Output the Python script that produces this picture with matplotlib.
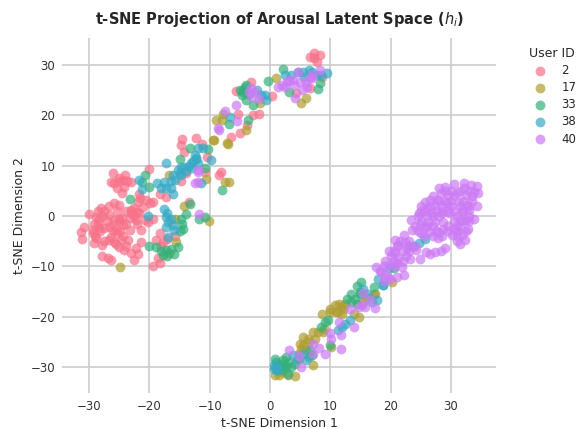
import matplotlib
matplotlib.use('Agg')
import matplotlib.pyplot as plt
import numpy as np
import seaborn as sns

user_ids = [2, 17, 33, 38, 40]

# points (t-SNE dim 1, dim 2)
user_2 = [(-26.0,8.6),(-24.1,8.1),(-26.4,6.7),(-24.4,7.2),(-23.1,6.8),(-25.8,6.5),(-25.3,5.5),(-24.2,5.8),
    (-24.6,4.6),(-21.8,4.4),(-21.9,2.8),(-22.5,1.5),(-19.4,2.8),(-19.9,2.5),(-18.3,4.4),(-17.2,3.8),(-20.0,9.3),
    (-28.1,1.5),(-28.6,0.9),(-30.0,0.4),(-26.7,1.9),(-25.8,2.5),(-25.0,2.2),(-25.3,0.9),(-23.9,0.9),(-23.1,1.2),
    (-21.7,0.5),(-22.5,0.0),(-23.3,-0.3),(-22.2,-0.8),(-20.8,-0.8),(-20.3,-1.1),(-19.4,-0.5),(-28.3,-0.5),
    (-29.2,-1.5),(-30.8,-2.1),(-31.4,-3.1),(-31.2,-4.6),(-29.4,-3.4),(-28.9,-4.4),(-29.2,-5.4),(-27.8,-5.8),
    (-26.7,-2.1),(-25.8,-0.8),(-25.0,-0.5),(-25.6,-2.5),(-24.4,-1.8),(-23.3,-2.8),(-21.4,-2.8),(-26.4,-4.1),
    (-25.3,-3.4),(-24.7,-4.8),(-23.6,-4.8),(-25.0,-6.1),(-24.2,-6.8),(-21.4,-5.2),(-22.2,-6.4),(-23.1,-7.4),
    (-21.9,-7.6),(-22.5,-8.7),(-27.8,-7.9),(-26.9,-8.4),(-26.4,-8.7),(-18.3,-3.4),(-18.9,-4.8),(-17.8,-5.1),
    (-15.8,-3.9),(-18.6,-8.4),(-19.4,-9.9),(-18.2,-9.4),(-28.3,-2.4),(-27.5,-2.4),(-26.7,-4.8),(-25.8,-5.1),
    (-29.4,-2.8),(-28.6,-1.5),(-27.8,0.0),(-26.7,0.2),
    (-14.6,15.3),(-14.7,14.1),(-12.3,15.4),(-11.3,14.2),(-14.2,12.6),(-10.4,11.8),(-8.2,8.8),(-8.5,8.1),
    (-13.9,8.5),(-14.7,7.0),(-10.7,8.8),(-13.4,2.8),
    (7.3,32.3),(6.7,31.6),(8.3,31.9),(7.8,30.6),(7.3,31.3),(-5.7,24.8),(-3.1,26.5),(0.3,23.8),(8.6,27.6),
    (6.6,25.3),(4.4,24.3),(-1.9,20.3),(-2.8,20.0),(-3.8,18.0),(-5.0,16.5),(-6.5,15.7),(-5.3,20.3),
    (-28.8,-0.2),(-27.5,1.0),(-27.0,-1.0),(-28.2,-3.0),(-29.0,-4.0),(-27.5,-5.0),(-26.0,-1.5),(-26.0,-3.0),
    (-24.8,-1.0),(-24.8,-3.0),(-24.3,-4.0),(-25.5,-5.5),(-23.8,-6.0),(-24.5,-0.3),(-23.0,0.5),(-22.0,0.8),
    (-21.0,1.8),(-22.0,-1.5),(-23.8,-1.5),(-21.5,3.6),(-20.5,3.2),(-25.0,7.5),(-25.0,7.0),(-23.7,7.0),
    (-18.0,-6.0),(-17.0,-4.5)]

user_17 = [(-9.0,19.0),(-7.8,20.3),(-8.0,19.0),(-9.3,15.0),(-6.9,14.2),(-1.6,22.5),(1.0,27.4),(5.1,22.5),(5.9,23.4),
    (-4.0,17.0),(-24.9,-10.2),(-9.4,15.1),(-7.1,14.4),(-7.4,6.8),(-6.8,6.8),(-16.7,8.1),(-14.2,2.0),(-15.8,-0.5),
    (-15.6,-5.1),(-16.7,-7.3),(-10.1,-1.0),(-10.6,7.3),
    (8.7,-19.5),(10.0,-18.5),(11.9,-17.9),(11.3,-19.0),(12.2,-18.5),(7.2,-23.0),(5.5,-24.0),(6.3,-24.3),(7.4,-24.3),
    (5.2,-26.3),(4.9,-27.3),(10.1,-26.0),(7.2,-29.6),(4.1,-31.8),(0.9,-31.6),(17.4,-15.4),(14.7,-20.0),(8.8,-23.0),
    (4.9,-28.3),(6.0,-26.6),(10.8,-17.7),(20.2,-13.0),(17.2,-15.5),
    (11.0,-19.0),(10.0,-19.0),(11.5,-17.5),(12.5,-17.5),(12.0,-19.5),(9.0,-22.5),(8.0,-23.0),(6.5,-25.0),(5.5,-25.5),
    (5.0,-25.3),(2.0,-31.0),(1.5,-31.5),(3.0,-31.5),(16.0,-16.0),(15.5,-17.0),(14.0,-19.5)]

user_33 = [(-20.7,8.1),(-21.2,6.8),(-20.0,5.7),(-23.3,3.3),(-15.0,11.3),(-13.3,13.4),(-10.3,13.2),(-7.9,5.2),(-13.9,0.4),
    (-13.3,2.4),(-14.6,-1.5),(-14.4,-2.5),(-20.0,-6.0),(-18.9,-6.2),(-15.3,-6.2),(-17.2,-6.8),(-17.7,-7.7),(-11.7,-0.5),
    (-10.7,-0.1),(-10.7,9.5),
    (-4.4,25.0),(-4.2,25.6),(-4.7,24.0),(-3.9,23.0),(-2.8,22.0),(-0.4,26.8),(2.2,29.1),(3.1,24.6),(8.3,26.3),(7.9,25.1),
    (-3.7,19.1),(-6.8,18.3),
    (15.1,-13.0),(17.2,-14.0),(14.4,-13.9),(12.8,-16.4),(14.1,-16.4),(14.4,-17.4),(9.7,-20.7),(9.1,-21.0),(8.4,-22.1),
    (9.9,-25.6),(6.6,-26.6),(0.8,-28.3),(1.6,-29.3),(2.7,-29.9),(3.0,-31.3),(2.2,-28.6),(4.1,-29.3),(1.1,-30.6),
    (2.7,-27.9),(20.5,-10.4),
    (-15.0,-3.0),(-14.8,-0.5),(-16.5,-6.5),(-18.0,-7.0),(-17.0,-8.0),(-16.0,-7.5),(-4.5,24.5),(-5.0,25.0),(-3.5,24.2),
    (-4.0,26.0),(1.0,-29.0),(1.5,-30.0),(2.0,-30.5),(2.5,-29.5),(3.0,-29.0),(0.8,-30.0),(3.5,-30.0),(13.5,-15.5),
    (15.0,-15.5),(13.5,-17.0),(15.0,-15.0),(6.5,-28.0),(7.0,-27.5)]

user_38 = [(-17.3,10.6),(-21.7,7.2),(-21.2,5.3),(-18.8,6.5),(-17.6,6.8),(-17.2,5.5),(-16.1,4.4),(-15.8,7.2),(-15.3,9.1),
    (-14.2,9.8),(-13.1,10.5),(-12.2,11.5),(-9.7,11.1),(-11.1,13.4),(-12.5,12.1),(-16.1,8.1),(-17.5,1.4),(-17.2,-0.1),
    (-20.3,0.0),(-16.9,-1.1),(-16.1,-1.8),(-17.2,-2.1),(-16.9,-4.1),(-11.4,6.5),(-14.7,8.1),
    (-2.1,25.0),(-0.8,24.0),(-0.6,23.1),(-6.7,19.7),(2.5,27.9),(4.7,28.5),(6.4,28.9),(7.8,27.9),(9.4,28.3),(5.6,27.6),
    (-11.9,13.4),(-12.2,11.4),
    (1.1,-29.9),(0.6,-30.3),(3.8,-27.6),(6.0,-28.6),(11.3,-22.6),(13.3,-20.7),(16.3,-15.4),(17.7,-16.7),(18.8,-13.7),
    (5.5,-27.3),(25.8,-4.6),(24.7,-5.4),(23.8,-6.0),(19.7,-10.4),(18.7,-13.7),
    (-15.0,8.5),(-14.0,9.0),(-13.5,10.0),(-12.8,11.0),(-14.8,9.8),(-13.0,9.5),(-12.0,10.5),(-16.5,7.0),(-16.5,5.5),
    (-18.0,5.5),(-17.0,0.5),(-16.5,-0.5),(-16.0,-2.8),(3.5,28.0),(5.5,28.5),(7.0,28.5),(8.5,28.0),(-1.5,24.0),
    (0.6,-29.5),(1.2,-30.5),(4.5,-28.5),(15.5,-14.5),(17.0,-17.0),(12.5,-21.5),(12.0,-22.0),(18.0,-12.5)]

user_40 = [(-3.2,25.3),(-3.0,23.6),(-1.9,23.3),(1.4,25.6),(3.1,27.0),(3.9,27.0),(4.7,28.5),(6.7,27.3),(8.3,28.9),(5.3,25.0),
    (4.1,23.5),(-5.7,22.0),(-7.5,20.9),(-5.4,18.8),(-8.6,17.4),(2.8,26.6),(7.0,27.3),(-11.9,9.1),(-8.4,17.1),
    (-11.9,8.8),(-11.9,6.8),(-12.5,6.5),(-11.7,0.4),
    (3.2,-26.5),(4.8,-27.8),(5.1,-29.9),(7.2,-25.4),(7.1,-27.3),(8.2,-26.1),(9.1,-27.4),(11.8,-26.4),(11.5,-21.0),
    (9.9,-23.3),(10.1,-24.3),(11.8,-23.6),(14.0,-22.0),(13.2,-18.5),(14.7,-18.1),(15.8,-18.0),(17.5,-18.3),(16.6,-16.7),
    (15.4,-15.2),(18.3,-11.0),(19.1,-11.7),(15.2,-17.7),
    (32.2,6.6),(33.3,6.2),(34.4,6.0),(34.5,4.5),(30.5,6.4),(29.1,5.8),(28.0,5.5),(28.3,4.5),(29.5,4.2),(31.1,4.5),
    (32.6,4.2),(33.8,4.8),(32.2,5.5),(27.7,3.2),(26.6,3.2),(25.8,2.8),(27.4,2.2),(26.1,1.5),(24.8,0.5),(29.4,2.5),
    (31.3,2.8),(32.7,2.2),(34.4,2.0),(30.5,0.9),(31.9,0.9),(33.0,1.2),(33.8,-0.6),(32.6,-0.8),(31.6,-0.7),(29.7,0.5),
    (28.6,0.5),(26.9,0.5),(25.8,0.9),(23.4,-0.7),(24.9,-1.5),(26.3,-1.1),(27.4,-1.1),(28.7,-1.1),(25.8,-2.1),(23.6,-2.8),
    (25.1,-3.4),(26.6,-3.1),(28.0,-3.1),(28.7,-2.5),(30.5,-2.5),(31.6,-2.1),(32.8,-2.5),(30.2,-3.8),(31.9,-3.8),
    (32.4,-4.8),(31.5,-5.6),(27.8,-4.4),(22.2,-3.8),(20.8,-4.8),(22.4,-5.1),(21.3,-5.8),(22.7,-6.4),(19.7,-7.0),
    (20.8,-7.4),(21.3,-8.4),(19.1,-8.9),(23.3,-8.6),(24.9,-8.6),(25.9,-7.1),(26.6,-7.6),(27.3,-7.1),(28.3,-6.9),
    (29.0,-6.3),(24.2,-6.8),(17.6,-10.2),(18.4,-11.1),(21.9,-10.1),(22.2,-11.7),(18.9,-12.8),(19.9,-12.4),(19.7,-9.7),
    (21.0,-9.4),
    (2.0,26.0),(2.5,25.5),(4.0,26.0),(5.0,26.5),(6.0,26.5),(6.2,25.5),(7.0,28.0),(-2.5,24.5),(-3.5,24.5),
    (29.0,5.0),(30.0,5.0),(31.5,5.0),(33.0,5.0),(27.0,4.0),(30.5,4.0),(33.5,4.0),(28.0,3.0),(29.0,3.0),(30.0,3.0),
    (32.0,3.0),(33.5,3.0),(25.0,2.0),(26.5,2.0),(28.5,2.0),(30.0,2.0),(31.5,2.0),(33.0,2.0),(25.0,1.0),(27.5,1.0),
    (28.5,1.0),(29.5,1.0),(32.0,1.0),(24.5,0.0),(26.0,0.0),(27.0,0.0),(28.0,0.0),(31.0,0.0),(33.0,0.0),(25.0,-1.0),
    (30.5,-1.0),(32.0,-1.0),(33.0,-1.0),(24.0,-2.0),(26.0,-2.0),(27.0,-2.0),(29.5,-2.0),(31.0,-2.0),(24.5,-3.0),
    (27.5,-3.0),(29.5,-3.0),(31.0,-3.0),(32.5,-3.0),(25.5,-4.0),(27.0,-4.0),(28.5,-4.0),(31.0,-4.0),(21.5,-5.0),
    (23.0,-5.0),(31.0,-5.0),(21.0,-6.0),(23.0,-6.0),(24.0,-6.0),(20.5,-7.0),(22.0,-7.0),(23.0,-7.0),(20.0,-8.0),
    (22.5,-8.0),(20.5,-9.0),(22.0,-9.0),(19.0,-10.0),(20.5,-10.0),(19.5,-12.0),(21.0,-12.0)]

groups = [user_2, user_17, user_33, user_38, user_40]

sns.set_style('whitegrid')
colors = sns.color_palette('husl', len(user_ids))

fig, ax = plt.subplots(figsize=(5.78, 4.29), dpi=100)

for uid, pts, c in zip(user_ids, groups, colors):
    pts = np.array(pts)
    ax.scatter(pts[:, 0], pts[:, 1], s=50, color=c, alpha=0.7, linewidth=0, label=str(uid))

ax.set_xlim(-34.5, 37.5)
ax.set_ylim(-35.1, 35.3)
ax.set_xticks(np.arange(-30, 31, 10))
ax.set_yticks(np.arange(-30, 31, 10))
ax.tick_params(labelsize=8.5, colors='#333333', length=0, pad=5)
ax.grid(color='#cccccc', linewidth=1.2)
ax.set_axisbelow(True)
sns.despine(left=True, bottom=True)

ax.set_xlabel('t-SNE Dimension 1', fontsize=9, color='#262626', labelpad=3)
ax.set_ylabel('t-SNE Dimension 2', fontsize=9, color='#262626', labelpad=3)
ax.set_title(r't-SNE Projection of Arousal Latent Space ($h_i$)', fontsize=10.5, fontweight='bold', color='#262626', pad=10, x=0.5)

leg = ax.legend(title='User ID', loc='upper left', bbox_to_anchor=(1.05, 1.005), frameon=False,
                fontsize=8.5, title_fontsize=9, labelspacing=0.35)

fig.subplots_adjust(left=62/578, right=496/578, top=1-38/429, bottom=1-393/429)
plt.savefig('out.png', dpi=100)
